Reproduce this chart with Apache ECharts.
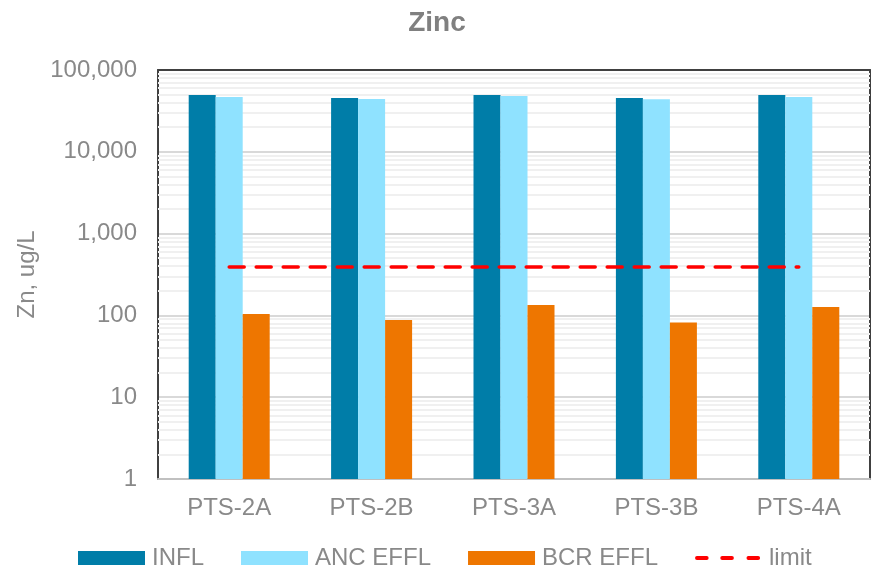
<!DOCTYPE html>
<html>
<head>
<meta charset="utf-8">
<script src="https://cdn.jsdelivr.net/npm/echarts@6/dist/echarts.min.js"></script>
<style>
  html, body { margin: 0; padding: 0; background: #fff; }
  #chart { width: 874px; height: 572px; }
</style>
</head>
<body>
<div id="chart"></div>
<script>
const categories = ['PTS-2A', 'PTS-2B', 'PTS-3A', 'PTS-3B', 'PTS-4A']
const infl = [49400, 45500, 49400, 45500, 49400]
const ancEffl = [46800, 44200, 48100, 43900, 46800]
const bcrEffl = [104, 88, 134, 82, 127]
const limit = [390, 390, 390, 390, 390]
const yTicks = [1, 10, 100, 1000, 10000, 100000]

// light log minor gridlines (2..9 in every decade)
let minorLines = []
for (let d = 0; d < yTicks.length - 1; d++) {
  for (let k = 2; k <= 9; k++) {
    minorLines.push({ yAxis: yTicks[d] * k })
  }
}

const gray = '#898989'
const font = 'Liberation Sans, Arial, sans-serif'
const frame = { color: '#404040', width: 2 }
// three short dashes for the limit entry in the legend
const dashIcon = 'path://M0,0h0.01v0.01H0z M0,13h0.01v0.01H0z ' +
  'M2,4.5h10a2,2 0 0 1 0,4h-10a2,2 0 0 1 0,-4z ' +
  'M28,4.5h10a2,2 0 0 1 0,4h-10a2,2 0 0 1 0,-4z ' +
  'M55,4.5h10a2,2 0 0 1 0,4h-10a2,2 0 0 1 0,-4z ' +
  'M69,0h0.01v0.01H69z'

let chart = echarts.init(document.getElementById('chart'))
chart.setOption({
  animation: false,
  title: {
    text: 'Zinc',
    left: 'center',
    top: 4,
    textStyle: { fontFamily: font, fontSize: 28, fontWeight: 'bold', color: '#808080' }
  },
  legend: {
    data: [
      { name: 'INFL', icon: 'rect' },
      { name: 'ANC EFFL', icon: 'rect' },
      { name: 'BCR EFFL', icon: 'rect' },
      { name: 'limit', icon: dashIcon }
    ],
    left: 73,
    bottom: -3,
    itemWidth: 67,
    itemHeight: 14,
    itemGap: 37,
    textStyle: { fontFamily: font, fontSize: 24, color: gray, padding: [0, 0, 0, 2] }
  },
  grid: {
    left: 158,
    right: 4,
    top: 70,
    bottom: 93
  },
  xAxis: [
    {
      type: 'category',
      data: categories,
      axisLine: { lineStyle: { color: '#c0c0c0', width: 2 } },
      axisTick: { show: false },
      axisLabel: { margin: 17, fontFamily: font, fontSize: 24, color: gray }
    },
    {
      type: 'category',
      position: 'top',
      data: categories,
      axisLine: { lineStyle: frame },
      axisTick: { show: false },
      axisLabel: { show: false }
    }
  ],
  yAxis: [
    {
      type: 'log',
      logBase: 10,
      min: 1,
      max: 100000,
      name: 'Zn, ug/L',
      nameLocation: 'middle',
      nameGap: 114,
      nameTextStyle: { fontFamily: font, fontSize: 24, color: gray },
      axisLine: { show: true, lineStyle: frame },
      axisTick: { show: false },
      axisLabel: {
        margin: 21,
        fontFamily: font,
        fontSize: 24,
        color: gray,
        formatter: v => Number(v).toLocaleString('en-US')
      },
      splitLine: { lineStyle: { color: '#d9d9d9', width: 2 } }
    },
    {
      type: 'log',
      logBase: 10,
      min: 1,
      max: 100000,
      position: 'right',
      axisLine: { show: true, lineStyle: frame },
      axisTick: { show: false },
      axisLabel: { show: false },
      splitLine: { show: false }
    }
  ],
  series: [
    {
      name: 'minor',
      type: 'line',
      data: [],
      z: 1,
      silent: true,
      markLine: {
        z: 1,
        silent: true,
        symbol: 'none',
        label: { show: false },
        lineStyle: { color: '#f0f0f0', width: 2, type: 'solid' },
        data: minorLines
      }
    },
    {
      name: 'INFL',
      type: 'bar',
      data: infl,
      barWidth: 27,
      barGap: '0%',
      itemStyle: { color: '#007da8' }
    },
    {
      name: 'ANC EFFL',
      type: 'bar',
      data: ancEffl,
      barWidth: 27,
      barGap: '0%',
      itemStyle: { color: '#8fe2ff' }
    },
    {
      name: 'BCR EFFL',
      type: 'bar',
      data: bcrEffl,
      barWidth: 27,
      barGap: '0%',
      itemStyle: { color: '#ee7600' }
    },
    {
      name: 'limit',
      type: 'line',
      data: limit,
      symbol: 'none',
      z: 5,
      lineStyle: { color: '#ff0000', width: 3.5, type: [15, 12], cap: 'round' },
      itemStyle: { color: '#ff0000' }
    }
  ]
})
</script>
</body>
</html>
